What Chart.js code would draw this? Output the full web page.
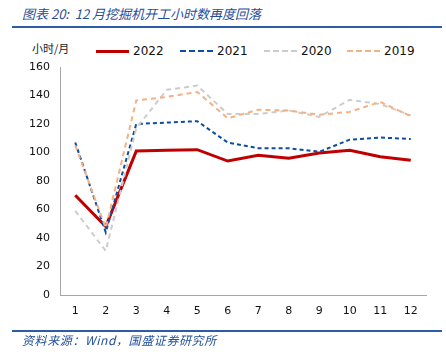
<!DOCTYPE html>
<html>
<head>
<meta charset="utf-8">
<script src="https://cdn.jsdelivr.net/npm/chart.js@4"></script>
<style>
  body { margin: 0; width: 446px; height: 361px; background: #fff; position: relative; overflow: hidden; font-family: "Noto Sans CJK SC", sans-serif; }
  #title { position: absolute; left: 22px; top: 4px; font-size: 13px; font-style: italic; color: #1F4E9A; white-space: nowrap; }
  .rule { position: absolute; left: 12px; width: 430px; height: 2px; background: #2E5DA8; }
  #source { position: absolute; left: 22px; top: 331px; font-size: 12px; letter-spacing: 0.6px; font-style: italic; color: #1F4E9A; white-space: nowrap; }
  #unit { position: absolute; left: 32px; top: 40px; font-size: 11px; color: #222; }
  #chartBox { position: absolute; left: 0; top: 0; width: 446px; height: 361px; }
  .leg { position: absolute; top: 44px; font-family: "DejaVu Sans", sans-serif; font-size: 12px; color: #111; display: flex; align-items: center; }
  .leg span.ln { display: inline-block; width: 33px; height: 0; margin-right: 4px; }
</style>
</head>
<body>
<div id="title">图表 20:&nbsp; 12 月挖掘机开工小时数再度回落</div>
<div class="rule" style="top:26px"></div>
<div id="unit">小时/月</div>
<div class="leg" style="left:96px"><span class="ln" style="border-top:3px solid #C00000"></span>2022</div>
<div class="leg" style="left:180px"><span class="ln" style="border-top:2px dashed #0B4EA2"></span>2021</div>
<div class="leg" style="left:264px"><span class="ln" style="border-top:2px dashed #CCCCCC"></span>2020</div>
<div class="leg" style="left:347px"><span class="ln" style="border-top:2px dashed #F4B183"></span>2019</div>
<div id="chartBox"><canvas id="chart" width="446" height="361"></canvas></div>
<div class="rule" style="top:330px"></div>
<div id="source">资料来源：Wind，国盛证券研究所</div>
<script>
const months = ['1', '2', '3', '4', '5', '6', '7', '8', '9', '10', '11', '12'];
const y2022 = [70, 48, 101, 101.5, 102, 94, 98, 96, 99.7, 101.5, 97, 94.5];
const y2021 = [107, 44, 120, 121, 122, 107, 103, 103, 100.5, 109, 110.5, 109.5];
const y2020 = [59, 31, 117, 144, 147, 127, 127, 129.5, 125, 137, 134, 126];
const y2019 = [105, 47, 136.5, 139, 142.5, 124, 130, 129.5, 126.5, 128.5, 135.5, 125.5];
const yTicks = [0, 20, 40, 60, 80, 100, 120, 140, 160];

document.addEventListener('DOMContentLoaded', function() {
    new Chart(document.getElementById('chart'), {
        type: 'line',
        data: {
            labels: months,
            datasets: [
                { label: '2019', data: y2019, borderColor: '#F4B183', borderWidth: 2, borderDash: [5, 4] },
                { label: '2020', data: y2020, borderColor: '#CCCCCC', borderWidth: 2, borderDash: [5, 4] },
                { label: '2021', data: y2021, borderColor: '#0B4EA2', borderWidth: 2, borderDash: [4, 3] },
                { label: '2022', data: y2022, borderColor: '#C00000', borderWidth: 3 }
            ]
        },
        options: {
            responsive: false,
            animation: false,
            elements: { point: { radius: 0 }, line: { tension: 0 } },
            layout: { padding: { left: 0, top: 67, right: 20, bottom: 0 } },
            plugins: { legend: { display: false }, tooltip: { enabled: false } },
            scales: {
                x: {
                    offset: true,
                    grid: { display: false, drawTicks: false },
                    border: { color: '#A6A6A6', width: 1 },
                    ticks: { color: '#111', font: { family: 'DejaVu Sans', size: 11 }, padding: 10, maxRotation: 0 },
                    afterFit: function(s) { s.height = 66; }
                },
                y: {
                    min: 0, max: 160,
                    afterBuildTicks: function(s) { s.ticks = yTicks.map(v => ({ value: v })); },
                    grid: { display: false, drawTicks: false },
                    border: { color: '#A6A6A6', width: 1 },
                    ticks: { color: '#111', font: { family: 'DejaVu Sans', size: 11 }, padding: 10 },
                    afterFit: function(s) { s.width = 60; }
                }
            }
        }
    });
});
</script>
</body>
</html>
